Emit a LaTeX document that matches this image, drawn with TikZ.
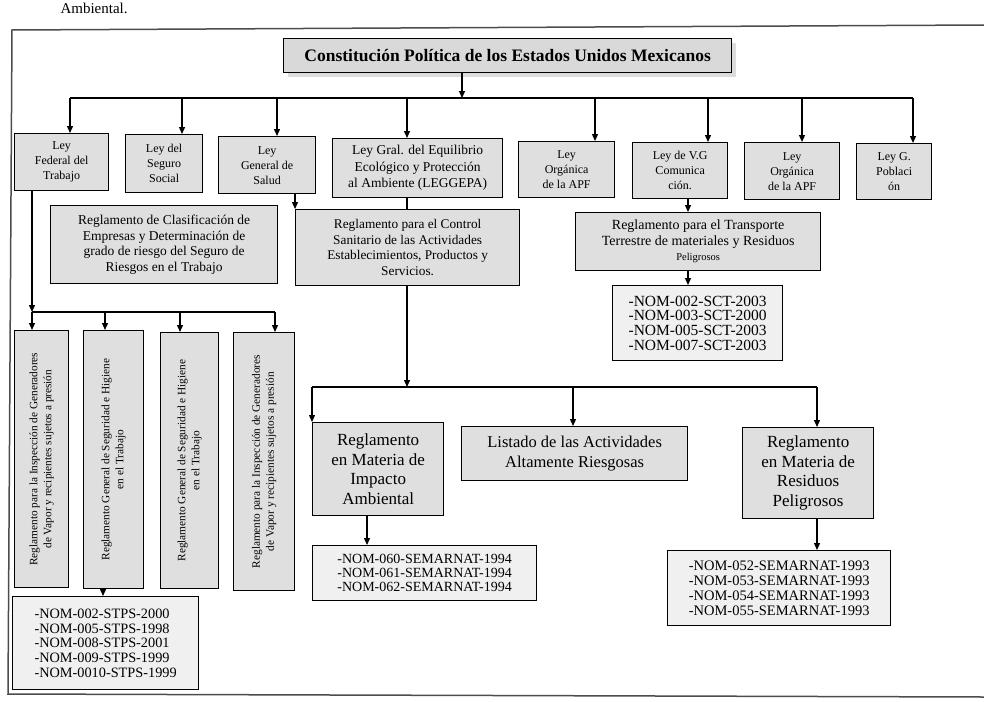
\documentclass[tikz,border=0pt]{standalone}
\usepackage{fontspec}
\setmainfont{Liberation Serif}
\usetikzlibrary{arrows.meta,shadows}
\newcommand{\fs}[2]{\fontsize{#1}{#2}\selectfont}
\newcommand{\vtext}[2]{\rotatebox{90}{\fs{11.3}{14}\begin{tabular}{@{}c@{}}#1\\#2\end{tabular}}}
\begin{document}
\begin{tikzpicture}[x=1pt,y=-1pt,
  box/.style={draw, line width=1.3pt, fill=gray!25, inner sep=1pt, align=center, anchor=north west, font=\fs{12}{15}},
  nombox/.style={box, fill=gray!12, align=left},
  arr/.style={line width=1.3pt, -{Triangle[length=7pt,width=6pt]}},
  ln/.style={line width=1.3pt}]
\useasboundingbox (0,0) rectangle (984,701);
\node[anchor=base west, font=\fs{15}{18}] (amb) at (57,14) {Ambiental.};
\draw[line width=1.5pt, gray!60!black] (984,25) -- (12,30) -- (8,694) -- (984,697);

% title
\node[box, fill=gray!30, minimum width=448pt, minimum height=34pt, font=\bfseries\fs{17.5}{20},
      drop shadow={shadow xshift=4pt, shadow yshift=-4pt, fill=gray!55}] (title) at (283,38)
      {Constitución Política de los Estados Unidos Mexicanos};

% laws
\node[box, minimum width=94pt, minimum height=57pt] (L1) at (14,133) {Ley\\Federal del\\Trabajo};
\node[box, minimum width=77pt, minimum height=58pt] (L2) at (125,134) {Ley del\\Seguro\\Social};
\node[box, minimum width=97pt, minimum height=57pt] (L3) at (218,136) {Ley\\General de\\Salud};
\node[box, minimum width=170pt, minimum height=59pt, font=\fs{13.5}{16.5}] (L4) at (332,138) {Ley Gral. del Equilibrio\\Ecológico y Protección\\al Ambiente (LEGGEPA)};
\node[box, minimum width=96pt, minimum height=56pt] (L5) at (518,141) {Ley\\Orgánica\\de la APF};
\node[box, minimum width=95pt, minimum height=56pt] (L6) at (632,142) {Ley de V.G\\Comunica\\ción.};
\node[box, minimum width=95pt, minimum height=57pt] (L7) at (744,142) {Ley\\Orgánica\\de la APF};
\node[box, minimum width=75pt, minimum height=56pt] (L8) at (856,143) {Ley G.\\Poblaci\\ón};

% reglamentos row 2
\node[box, minimum width=227pt, minimum height=78pt, font=\fs{13.5}{15.5}] (R1) at (50,205)
  {Reglamento de Clasificación de\\Empresas y Determinación de\\grado de riesgo del Seguro de\\Riesgos en el Trabajo};
\node[box, minimum width=224pt, minimum height=76pt, font=\fs{13.3}{15.5}] (R2) at (295,209)
  {Reglamento para el Control\\Sanitario de las Actividades\\Establecimientos, Productos y\\Servicios.};
\node[box, minimum width=245pt, minimum height=58pt, font=\fs{14}{15.5}] (R3) at (575,212)
  {Reglamento para el Transporte\\Terrestre de materiales y Residuos\\{\fs{10.5}{12}Peligrosos}};
\node[nombox, minimum width=170pt, minimum height=75pt, font=\fs{15.5}{14.8}] (NSCT) at (612,285)
  {-NOM-002-SCT-2003\\-NOM-003-SCT-2000\\-NOM-005-SCT-2003\\-NOM-007-SCT-2003};

% vertical reglamentos
\node[box, minimum width=54pt, minimum height=257pt] (V1) at (14,330)
  {\vtext{Reglamento para la Inspección de Generadores}{de Vapor y recipientes sujetos a presión}};
\node[box, minimum width=60pt, minimum height=258pt] (V2) at (83,330)
  {\vtext{Reglamento General de Seguridad e Higiene}{en el Trabajo}};
\node[box, minimum width=58pt, minimum height=256pt] (V3) at (160,332)
  {\vtext{Reglamento General de Seguridad e Higiene}{en el Trabajo}};
\node[box, minimum width=61pt, minimum height=258pt] (V4) at (233,332)
  {\vtext{Reglamento para la Inspección de Generadores}{de Vapor y recipientes sujetos a presión}};
\node[nombox, minimum width=186pt, minimum height=93pt, font=\fs{14.3}{14.8}] (NSTPS) at (12,596)
  {-NOM-002-STPS-2000\\-NOM-005-STPS-1998\\-NOM-008-STPS-2001\\-NOM-009-STPS-1999\\-NOM-0010-STPS-1999};

% LEGGEPA reglamentos
\node[box, minimum width=131pt, minimum height=93pt, font=\fs{17}{19.5}] (RIA) at (312,422)
  {Reglamento\\en Materia de\\Impacto\\Ambiental};
\node[box, minimum width=226pt, minimum height=54pt, font=\fs{16.5}{20}] (LIST) at (461,426)
  {Listado de las Actividades\\Altamente Riesgosas};
\node[box, minimum width=131pt, minimum height=91pt, font=\fs{17}{19.5}] (RRP) at (742,427)
  {Reglamento\\en Materia de\\Residuos\\Peligrosos};
\node[nombox, minimum width=224pt, minimum height=55pt, font=\fs{14}{14}] (N94) at (312,545)
  {-NOM-060-SEMARNAT-1994\\-NOM-061-SEMARNAT-1994\\-NOM-062-SEMARNAT-1994};
\node[nombox, minimum width=223pt, minimum height=75pt, font=\fs{14.5}{15}] (N93) at (667,550)
  {-NOM-052-SEMARNAT-1993\\-NOM-053-SEMARNAT-1993\\-NOM-054-SEMARNAT-1993\\-NOM-055-SEMARNAT-1993};

% connectors: constitution to laws
\coordinate (b1) at (462,98);
\draw[arr] (b1 |- title.south) -- (b1);
\coordinate (d1) at (70,98);  \coordinate (d2) at (182,98);
\coordinate (d3) at (277,98); \coordinate (d4) at (407,98);
\coordinate (d5) at (595,98); \coordinate (d6) at (708,98);
\coordinate (d7) at (802,98); \coordinate (d8) at (913,98);
\draw[ln] (d1) -- (d8);
\foreach \i/\L in {1/L1,2/L2,3/L3,4/L4,5/L5,6/L6,7/L7,8/L8}
  \draw[arr] (d\i) -- (d\i |- \L.north);

% Ley Federal del Trabajo branch
\coordinate (e1) at (32,312);  \coordinate (e2) at (105,312);
\coordinate (e3) at (180,312); \coordinate (e4) at (275,312);
\draw[arr] (e1 |- L1.south) -- (e1);
\draw[ln] (e1) -- (e4);
\foreach \i/\V in {1/V1,2/V2,3/V3,4/V4}
  \draw[arr] (e\i) -- (e\i |- \V.north);
\coordinate (f) at (103,600);
\draw[arr] (f |- V2.south) -- (f |- NSTPS.north);

% Salud and LEGGEPA to Control Sanitario
\draw[arr] (R2.north west |- L3.south) -- (R2.north west);
\draw[ln] (d4 |- L4.south) -- (d4 |- R2.north);

% Comunicaciones branch
\coordinate (g) at (688,250);
\draw[arr] (g |- L6.south) -- (g |- R3.north);
\draw[arr] (g |- R3.south) -- (g |- NSCT.north);

% LEGGEPA lower branch
\coordinate (h0) at (407,387);
\coordinate (h1) at (312,387); \coordinate (h2) at (573,387); \coordinate (h3) at (817,387);
\draw[arr] (h0 |- R2.south) -- (h0);
\draw[ln] (h1) -- (h3);
\draw[arr] (h1) -- (h1 |- RIA.north);
\draw[arr] (h2) -- (h2 |- LIST.north);
\draw[arr] (h3) -- (h3 |- RRP.north);
\coordinate (k) at (367,530);
\draw[arr] (k |- RIA.south) -- (k |- N94.north);
\draw[arr] (h3 |- RRP.south) -- (h3 |- N93.north);
\end{tikzpicture}
\end{document}
